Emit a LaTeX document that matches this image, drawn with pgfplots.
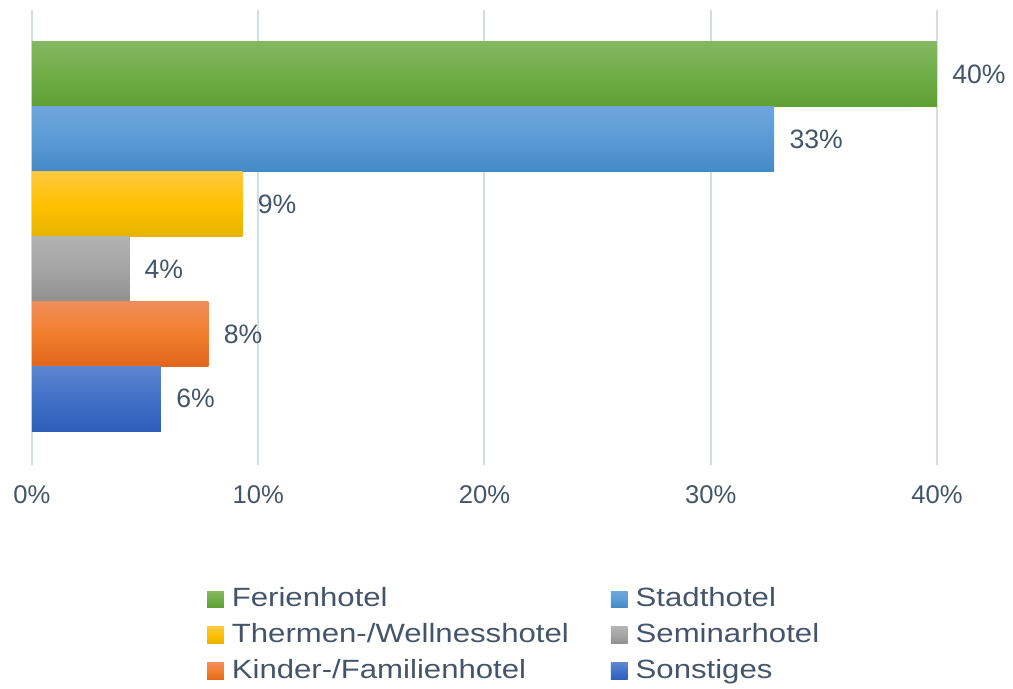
\documentclass[border=0pt]{standalone}
\usepackage{fontspec}
\setmainfont{Liberation Sans}
\newfontfamily\legendfont[FakeStretch=1.18]{Liberation Sans}
\usepackage{xcolor}
\usepackage{pgfplots}
\pgfplotsset{compat=1.18}

\definecolor{txt}{HTML}{44546A}
\definecolor{gridc}{HTML}{D6DCE4}
% light / mid / dark stops for each bar
\definecolor{g1}{HTML}{85B762}\definecolor{g2}{HTML}{70AD47}\definecolor{g3}{HTML}{5E9F33}
\definecolor{b1}{HTML}{6EA6DC}\definecolor{b2}{HTML}{5B9BD5}\definecolor{b3}{HTML}{4489C7}
\definecolor{y1}{HTML}{FFC83F}\definecolor{y2}{HTML}{FFC000}\definecolor{y3}{HTML}{E7B400}
\definecolor{s1}{HTML}{B2B2B2}\definecolor{s2}{HTML}{A5A5A5}\definecolor{s3}{HTML}{8F8F8F}
\definecolor{o1}{HTML}{F28E5A}\definecolor{o2}{HTML}{F07E2C}\definecolor{o3}{HTML}{E2661B}
\definecolor{d1}{HTML}{5F86D0}\definecolor{d2}{HTML}{4170C8}\definecolor{d3}{HTML}{2E5EB8}

\pgfplotsset{
  hbar/.style={xbar, bar shift=0pt, bar width=1, draw=none},
  sq legend/.style={legend image code/.code={%
      \path[##1, draw=none] (0pt,-3.9pt) rectangle (8.4pt,4.5pt);}},
}

\begin{document}
\begin{tikzpicture}
\useasboundingbox (-16pt,-112pt) rectangle (490.5pt,232.5pt);
\begin{axis}[
    at={(0,0)}, anchor=south west,
    scale only axis,
    width=452.5pt, height=227.5pt,
    xmin=0, xmax=40,
    ymin=-0.99, ymax=6.02,
    y dir=reverse,
    axis line style={draw=none},
    major tick length=0pt,
    xtick={0,10,20,30,40},
    xticklabels={0\%,10\%,20\%,30\%,40\%},
    ytick=\empty,
    xmajorgrids,
    grid style={gridc, line width=1pt},
    xticklabel style={font=\fontsize{12.8}{14}\selectfont, text=txt,
        inner sep=0pt, anchor=north, yshift=-10pt},
    clip=false,
    /pgf/number format/assume math mode=true,
    nodes near coords={\pgfmathprintnumber[fixed,precision=0]{\pgfplotspointmeta}\%},
    point meta=x,
    every node near coord/.append style={font=\fontsize{13.3}{15}\selectfont,
        text=txt, inner sep=0pt, anchor=west, xshift=7.5pt},
    sq legend,
    legend columns=2,
    legend cell align=left,
    legend style={at={(axis description cs:0.1934,-0.2703)}, anchor=north west,
        draw=none, fill=none, inner sep=0pt, outer sep=0pt,
        font=\legendfont\fontsize{13.2}{15}\selectfont, text=txt,
        nodes={inner sep=0pt, text height=9.45pt, text depth=2.6pt},
        row sep=5.9pt,
        /tikz/every odd column/.append style={column sep=4pt},
        /tikz/every even column/.append style={column sep=21pt}},
]
\addplot[hbar, top color=g1, bottom color=g3, middle color=g2]
  coordinates {(40.0,0)};
\addlegendentry{Ferienhotel}
\addplot[hbar, top color=b1, bottom color=b3, middle color=b2]
  coordinates {(32.8,1)};
\addlegendentry{Stadthotel}
\addplot[hbar, top color=y1, bottom color=y3, middle color=y2]
  coordinates {(9.3,2)};
\addlegendentry{Thermen-/Wellnesshotel}
\addplot[hbar, top color=s1, bottom color=s3, middle color=s2]
  coordinates {(4.3,3)};
\addlegendentry{Seminarhotel}
\addplot[hbar, top color=o1, bottom color=o3, middle color=o2]
  coordinates {(7.8,4)};
\addlegendentry{Kinder-/Familienhotel}
\addplot[hbar, top color=d1, bottom color=d3, middle color=d2]
  coordinates {(5.7,5)};
\addlegendentry{Sonstiges}
\end{axis}
\end{tikzpicture}
\end{document}
